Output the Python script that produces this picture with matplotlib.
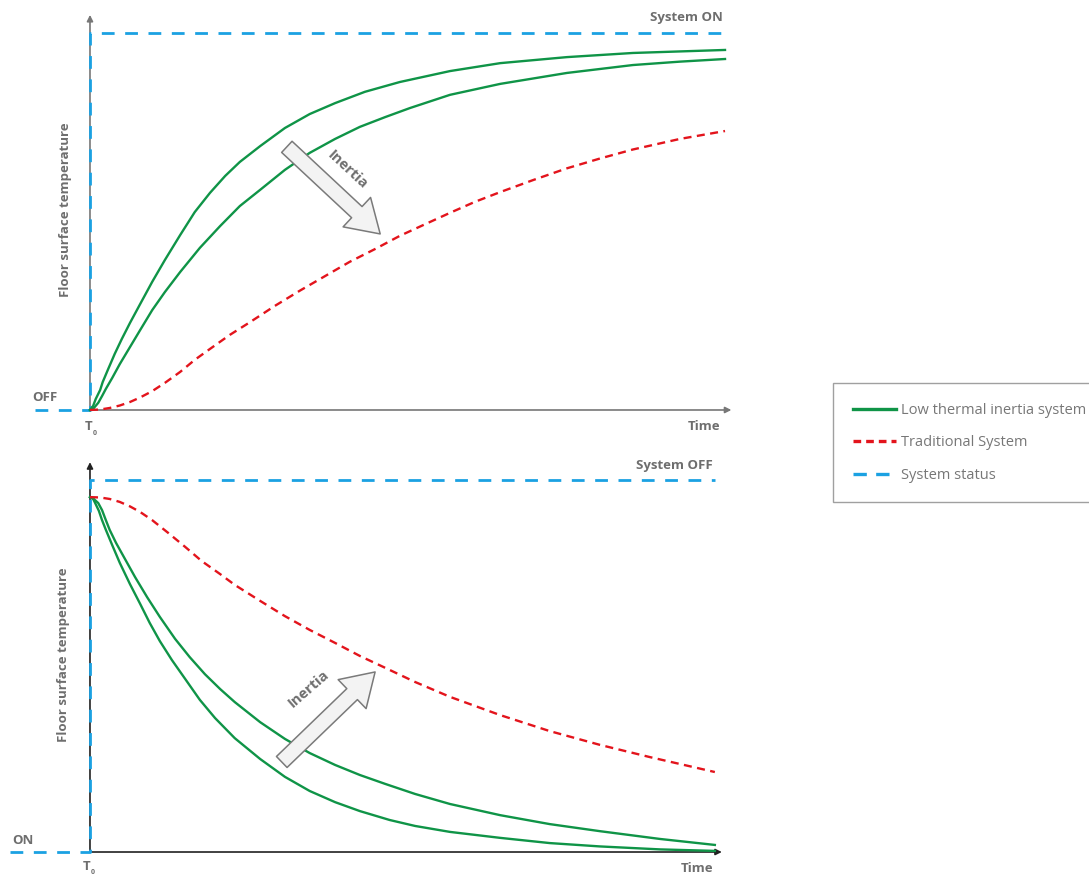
# Floor heating: surface temperature response on switch ON / OFF
import matplotlib.pyplot as plt
from matplotlib.lines import Line2D

GREEN = '#0f9447'
RED = '#e3141c'
BLUE = '#1ba1e2'
GREY = '#777777'

# ---- top panel: system switched ON (time 0..10, temperature 0..100) ----
on_fast_t = [0, .05, .09, .16, .20, .28, .39, .50, .63, .79, .98, 1.18, 1.42, 1.65, 1.89, 2.13,
             2.36, 2.68, 3.07, 3.46, 3.86, 4.33, 4.88, 5.67, 6.46, 7.51, 8.55, 10.0]
on_fast_T = [0, 1.1, 2.9, 5.3, 7.4, 10.6, 14.9, 18.8, 23.1, 28.1, 34.0, 39.8, 46.4, 52.5, 57.6, 62.1,
             65.8, 70.0, 74.8, 78.5, 81.4, 84.4, 87.0, 89.9, 92.0, 93.6, 94.7, 95.5]

on_slow_t = [0, .06, .13, .19, .25, .35, .47, .63, .79, .98, 1.18, 1.42, 1.73, 2.05, 2.36, 2.68,
             3.07, 3.46, 3.86, 4.25, 4.65, 5.04, 5.67, 6.46, 7.51, 8.55, 9.29, 10.0]
on_slow_T = [0, 0.5, 1.9, 3.7, 5.6, 8.5, 12.2, 16.7, 21.2, 26.5, 31.3, 36.6, 43.0, 48.8, 54.1, 58.4,
             63.7, 68.2, 71.9, 75.1, 77.7, 80.1, 83.6, 86.5, 89.4, 91.5, 92.4, 93.1]

on_trad_t = [0, .16, .31, .47, .63, .79, .98, 1.18, 1.42, 1.65, 1.89, 2.20, 2.52, 2.91, 3.31,
             3.70, 4.09, 4.49, 4.88, 5.28, 5.67, 6.06, 6.46, 6.98, 7.51, 8.03, 8.55, 9.29, 10.0]
on_trad_T = [0, 0.13, 0.53, 1.19, 2.12, 3.32, 5.0, 7.2, 10.1, 13.3, 16.2, 19.9, 23.3, 27.6, 31.7,
             35.5, 39.3, 42.7, 46.2, 49.3, 52.3, 55.2, 57.8, 61.0, 64.1, 66.7, 69.1, 71.9, 74.0]

on_status_t = [-0.87, 0, 0, 10]
on_status_T = [0, 0, 100, 100]

# ---- bottom panel: system switched OFF ----
off_fast_t = [0, .05, .09, .14, .19, .25, .35, .47, .63, .79, .94, 1.10, 1.29, 1.50, 1.73, 1.97,
              2.28, 2.68, 3.07, 3.46, 3.86, 4.25, 4.72, 5.12, 5.67, 6.46, 7.24, 8.03, 8.98, 9.84]
off_fast_T = [95.4, 94.9, 93.5, 91.7, 89.2, 86.6, 82.5, 77.7, 72.0, 66.7, 61.6, 56.7, 51.6, 46.5, 40.9, 36.0,
              30.6, 25.0, 20.2, 16.4, 13.4, 11.0, 8.6, 7.0, 5.4, 3.8, 2.4, 1.5, 0.7, 0.3]

off_slow_t = [0, .06, .13, .19, .25, .31, .41, .55, .71, .90, 1.10, 1.34, 1.57, 1.81, 2.05,
              2.28, 2.68, 3.07, 3.46, 3.86, 4.25, 4.65, 5.12, 5.67, 6.46, 7.24, 8.03, 8.98, 9.84]
off_slow_T = [95.4, 94.9, 93.8, 91.9, 89.2, 86.6, 83.1, 78.8, 73.9, 68.5, 63.2, 57.3, 52.4, 47.8, 43.8,
              40.3, 34.9, 30.4, 26.6, 23.4, 20.7, 18.3, 15.6, 12.9, 9.9, 7.5, 5.6, 3.5, 1.9]

off_trad_t = [0, .16, .31, .47, .63, .79, .98, 1.23, 1.50, 1.76, 2.05, 2.28, 2.68, 3.07, 3.46,
              3.86, 4.25, 4.65, 5.12, 5.67, 6.46, 7.24, 8.03, 8.82, 9.84]
off_trad_T = [95.4, 95.3, 94.9, 94.1, 92.9, 91.4, 89.2, 85.8, 82.0, 78.2, 74.7, 71.8, 67.5, 63.4, 59.7,
              56.2, 52.7, 49.5, 45.7, 41.7, 36.8, 32.5, 28.8, 25.5, 21.5]

off_status_t = [-1.26, 0, 0, 9.84]
off_status_T = [0, 0, 100, 100]

legend_labels = ['Low thermal inertia system', 'Traditional System', 'System status']

plt.rcParams['font.family'] = ['Open Sans', 'DejaVu Sans']

fig = plt.figure(figsize=(10.89, 8.76), dpi=100)
ax1 = fig.add_axes([0, 436 / 876, 760 / 1089, 440 / 876])
ax2 = fig.add_axes([0, 0, 760 / 1089, 436 / 876])

ax1.set_xlim(-1.417, 10.551)
ax1.set_ylim(-7.96, 108.75)
ax2.set_xlim(-1.417, 10.551)
ax2.set_ylim(-6.45, 110.75)


def draw_panel(ax, fast, slow, trad, status, axis_col, x_end):
    # axes drawn as arrows
    ax.annotate('', xy=(0, 104.8), xytext=(0, 0),
                arrowprops=dict(arrowstyle='-|>', color=axis_col, lw=1.2,
                                mutation_scale=9, shrinkA=0, shrinkB=0))
    ax.annotate('', xy=(x_end, 0), xytext=(0, 0),
                arrowprops=dict(arrowstyle='-|>', color=axis_col, lw=1.2,
                                mutation_scale=9, shrinkA=0, shrinkB=0))
    st, = ax.plot(status[0], status[1], color=BLUE, lw=2.0, dashes=(4.6, 3.8), zorder=3)
    g, = ax.plot(slow[0], slow[1], color=GREEN, lw=1.7, zorder=4)
    ax.plot(fast[0], fast[1], color=GREEN, lw=1.7, zorder=4)
    r, = ax.plot(trad[0], trad[1], color=RED, lw=1.7, dashes=(3.4, 2.3), zorder=4)
    ax.axis('off')
    return g, r, st


draw_panel(ax1, (on_fast_t, on_fast_T), (on_slow_t, on_slow_T),
           (on_trad_t, on_trad_T), (on_status_t, on_status_T), GREY, 10.1)
draw_panel(ax2, (off_fast_t, off_fast_T), (off_slow_t, off_slow_T),
           (off_trad_t, off_trad_T), (off_status_t, off_status_T), '#222222', 9.95)

lab = dict(color='#6e6e6e', fontweight='bold', fontsize=9.5)

# top panel texts
ax1.text(9.97, 104.2, 'System ON', ha='right', va='center', **lab)
ax1.text(-0.913, 3.2, 'OFF', ha='left', va='center', **lab)
ax1.text(-0.03, -4.5, 'T', ha='center', va='center', **lab)
ax1.text(0.08, -6.3, '0', ha='center', va='center', color='#6e6e6e', fontsize=5, fontweight='bold')
ax1.text(9.92, -4.5, 'Time', ha='right', va='center', **lab)
ax1.text(-0.378, 53, 'Floor surface temperature', rotation=90, ha='center', va='center', **lab)

# bottom panel texts
ax2.text(9.81, 103.8, 'System OFF', ha='right', va='center', **lab)
ax2.text(-1.228, 3.2, 'ON', ha='left', va='center', **lab)
ax2.text(-0.06, -3.8, 'T', ha='center', va='center', **lab)
ax2.text(0.05, -5.5, '0', ha='center', va='center', color='#6e6e6e', fontsize=5, fontweight='bold')
ax2.text(9.81, -4.3, 'Time', ha='right', va='center', **lab)
ax2.text(-0.41, 53, 'Floor surface temperature', rotation=90, ha='center', va='center', **lab)

# "Inertia" arrows
arrow_style = dict(arrowstyle='simple,head_length=2.3,head_width=2.9,tail_width=1.1',
                   fc='#f3f3f3', ec='#7a7a7a', lw=1.1, mutation_scale=10,
                   shrinkA=0, shrinkB=0)
inertia = dict(color='#6e6e6e', fontweight='bold', fontsize=10.5)
ax1.annotate('', xy=(4.57, 46.7), xytext=(3.10, 69.8), arrowprops=arrow_style, zorder=5)
ax1.text(4.06, 63.6, 'Inertia', rotation=-43, ha='center', va='center', zorder=6, **inertia)
ax2.annotate('', xy=(4.49, 48.4), xytext=(3.02, 24.2), arrowprops=arrow_style, zorder=5)
ax2.text(3.45, 43.8, 'Inertia', rotation=41, ha='center', va='center', zorder=6, **inertia)

# legend
handles = [Line2D([], [], color=GREEN, lw=2.4),
           Line2D([], [], color=RED, lw=2.4, dashes=(2.3, 1.5)),
           Line2D([], [], color=BLUE, lw=2.4, dashes=(4.0, 2.8))]
leg = fig.legend(handles, legend_labels, loc='upper left',
                 bbox_to_anchor=(833 / 1089, 1 - 383 / 876), fontsize=10.5,
                 frameon=True, fancybox=False, handlelength=2.95, handletextpad=0.35,
                 borderpad=1.35, labelspacing=1.2, borderaxespad=0)
leg.get_frame().set_edgecolor('#888888')
leg.get_frame().set_linewidth(1.0)
for t in leg.get_texts():
    t.set_color('#777777')

fig.savefig('out.png', dpi=100)
